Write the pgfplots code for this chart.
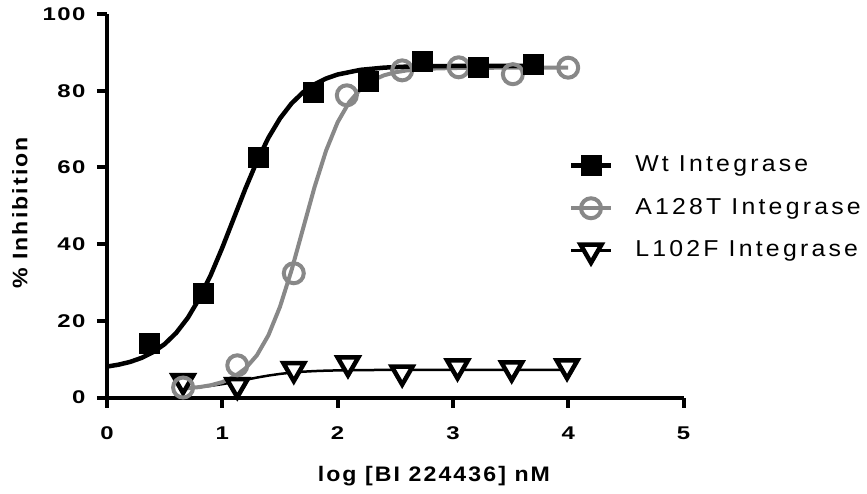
\documentclass[border=0pt]{standalone}
\usepackage{fontspec}
\setmainfont{Liberation Sans}
\newfontfamily\tickfam{Liberation Sans}[LetterSpace=8,FakeStretch=1.3]
\newfontfamily\labfam{Liberation Sans}[LetterSpace=10,FakeStretch=1.1]
\newfontfamily\legfam{Liberation Sans}[LetterSpace=14,FakeStretch=1.08]
\usepackage{pgfplots}
\pgfplotsset{compat=1.18}
\definecolor{pgray}{RGB}{136,136,136}
\pgfplotsset{
 wtleg/.style={legend image code/.code={\draw[line width=4.5pt,black] (0pt,0pt) -- (40pt,0pt); \draw[##1] plot coordinates {(20pt,0pt)};}},
 aleg/.style={legend image code/.code={\draw[line width=4.5pt,pgray] (0pt,0pt) -- (40pt,0pt); \draw[##1] plot coordinates {(20pt,0pt)};}},
 lleg/.style={legend image code/.code={\draw[line width=3pt,black] (0pt,0pt) -- (40pt,0pt); \draw[##1] plot coordinates {(20pt,0pt)};}},
}
\begin{document}
\begin{tikzpicture}
\useasboundingbox (0,0) rectangle (867pt,493pt);
\begin{axis}[
 at={(107pt,95.5pt)}, anchor=south west,
 width=576.5pt, height=383.5pt, scale only axis,
 xmin=0,xmax=5,ymin=0,ymax=100,
 axis x line=bottom, axis y line=left,
 axis line style={-, line width=4pt, black},
 xtick={0,1,2,3,4,5}, ytick={0,20,40,60,80,100},
 tick align=outside, major tick length=10pt,
 every tick/.style={black, line width=4pt},
 /pgf/number format/assume math mode=true,
 ticklabel style={font=\fontsize{18.4}{20}\tickfam\bfseries},
 xticklabel style={yshift=-16pt},
 yticklabel style={xshift=-8pt},
 xlabel={log [BI 224436] nM}, ylabel={\% Inhibition},
 every axis x label/.style={at={(axis description cs:0.567,-0.2203)}, anchor=base, font=\fontsize{21}{24}\labfam\bfseries},
 every axis y label/.style={at={(axis description cs:-0.151,0.481)}, rotate=90, anchor=center, font=\fontsize{21}{24}\labfam\bfseries},
 clip=false,
 legend style={at={(axis description cs:0.801,0.633)}, anchor=north west, draw=none, fill=none,
   inner sep=0pt, outer sep=0pt, row sep=20.5pt, column sep=22pt,
   font=\fontsize{23}{26}\legfam, nodes={inner sep=0pt, text height=17pt, text depth=5pt}},
 legend cell align=left,
 reverse legend,
]
% L102F
\addplot[black, line width=2.5pt, forget plot] coordinates {
(0.66,2.40)(0.8,2.71)(0.9,3.05)(1.0,3.48)(1.1,4.02)(1.2,4.60)(1.3,5.20)(1.4,5.72)(1.5,6.15)(1.6,6.49)(1.7,6.73)(1.8,6.89)(1.9,7.00)(2.0,7.07)(2.15,7.13)(2.3,7.17)(2.6,7.19)(3.0,7.20)(3.5,7.20)(4.0,7.20)};
\addplot[lleg, only marks, mark=triangle*, mark size=12pt, mark options={rotate=180, draw=black, fill=white, line width=4.5pt}] coordinates {
(0.66,4.3)(1.13,3.2)(1.62,7.4)(2.09,8.9)(2.56,6.5)(3.04,8.1)(3.51,7.6)(3.99,8.1)};
\addlegendentry{L102F Integrase}
% A128T
\addplot[pgray, line width=4pt, forget plot] coordinates {
(0.66,2.34)(0.8,2.71)(0.9,3.20)(1.0,4.01)(1.1,5.36)(1.2,7.55)(1.3,11.01)(1.4,16.24)(1.5,23.63)(1.6,33.13)(1.7,44.00)(1.8,54.87)(1.9,64.37)(2.0,71.76)(2.1,76.99)(2.2,80.45)(2.3,82.64)(2.4,83.99)(2.5,84.80)(2.6,85.29)(2.8,85.75)(3.0,85.91)(3.3,85.98)(3.6,86.0)(4.0,86.0)};
\addplot[aleg, only marks, mark=o, mark size=10pt, mark options={draw=pgray, line width=4pt}] coordinates {
(0.66,2.6)(1.13,8.4)(1.62,32.4)(2.08,78.8)(2.56,85.3)(3.05,86.1)(3.52,84.3)(4.00,86.0)};
\addlegendentry{A128T Integrase}
% Wt
\addplot[black, line width=4.5pt, forget plot] coordinates {
(0,8.06)(0.1,8.56)(0.2,9.28)(0.3,10.33)(0.4,11.82)(0.5,13.93)(0.6,16.84)(0.7,20.74)(0.8,25.77)(0.9,31.94)(1.0,39.07)(1.1,46.75)(1.2,54.43)(1.3,61.56)(1.4,67.73)(1.5,72.76)(1.6,76.66)(1.7,79.57)(1.8,81.68)(1.9,83.17)(2.0,84.22)(2.2,85.44)(2.4,86.01)(2.6,86.28)(2.8,86.40)(3.0,86.45)(3.3,86.48)(3.7,86.5)};
\addplot[wtleg, only marks, mark=square*, mark size=10pt, mark options={draw=black, fill=black, line width=0pt}] coordinates {
(0.37,14.2)(0.84,27.2)(1.31,62.7)(1.79,79.5)(2.27,82.5)(2.74,87.6)(3.22,86.0)(3.70,86.8)};
\addlegendentry{Wt Integrase}
\end{axis}
\end{tikzpicture}
\end{document}
